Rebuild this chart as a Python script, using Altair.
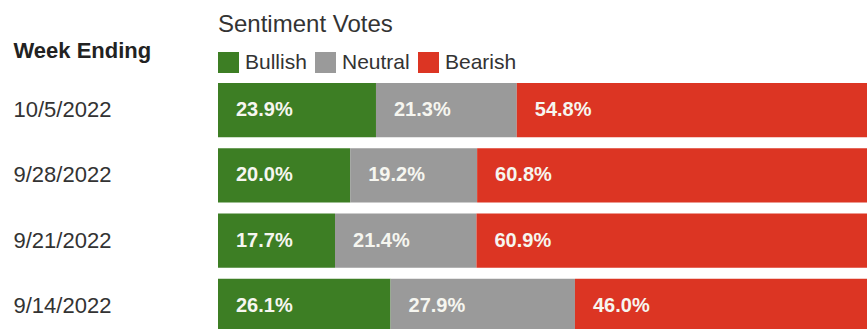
import altair as alt
import pandas as pd

weeks = ["10/5/2022", "9/28/2022", "9/21/2022", "9/14/2022"]
bullish = [23.9, 20.0, 17.7, 26.1]
neutral = [21.3, 19.2, 21.4, 27.9]
bearish = [54.8, 60.8, 60.9, 46.0]
categories = ["Bullish", "Neutral", "Bearish"]
colors = ["#3d7e24", "#9a9a9a", "#dc3523"]

rows = []
for i, w in enumerate(weeks):
    for k, (cat, vals) in enumerate(zip(categories, [bullish, neutral, bearish])):
        rows.append({"week": w, "sentiment": cat, "order": k, "value": vals[i]})
df = pd.DataFrame(rows)

FONT = "Liberation Sans"

base = alt.Chart(df).transform_stack(
    stack="value", groupby=["week"], as_=["x0", "x1"],
    sort=[alt.SortField("order", "ascending")]
).transform_calculate(label="format(datum.value, '.1f') + '%'")

yenc = alt.Y(
    "week:N", sort=weeks,
    scale=alt.Scale(paddingInner=0.17, paddingOuter=0, range=[0, 250]),
    axis=alt.Axis(
        domain=False, ticks=False, tickSize=0, labelAlign="left", labelPadding=205,
        labelFont=FONT, labelFontSize=22, labelColor="#333333",
        title="Week Ending", titleFont=FONT, titleFontSize=22, titleFontWeight="bold",
        titleColor="#222222", titleAngle=0, titleAlign="left", titleBaseline="middle",
        titleX=-205, titleY=-33,
    ),
)
xscale = alt.Scale(domain=[0, 98.18], nice=False, zero=True)

bars = base.mark_bar(clip=True).encode(
    x=alt.X("x0:Q", scale=xscale, axis=None),
    x2="x1:Q",
    y=yenc,
    color=alt.Color(
        "sentiment:N",
        scale=alt.Scale(domain=categories, range=colors),
        legend=alt.Legend(
            orient="none", legendX=0, legendY=-31, direction="horizontal", title=None,
            symbolType="square", symbolSize=441, symbolStrokeWidth=0, symbolOpacity=1,
            labelFont=FONT, labelFontSize=21, labelColor="#333333", labelOffset=6,
            columnPadding=8, padding=0,
        ),
    ),
)

texts = base.mark_text(
    align="left", baseline="middle", dx=18, font=FONT, fontSize=20,
    fontWeight="bold", color="#f6f6f0", clip=True,
).encode(
    x=alt.X("x0:Q", scale=xscale, axis=None),
    y=yenc,
    text="label:N",
)

chart = alt.layer(bars, texts).properties(
    width=649, height=246,
    title=alt.Title("Sentiment Votes", anchor="start", frame="group", fontSize=24,
                    font=FONT, fontWeight="normal", color="#333333", offset=2),
    autosize=alt.AutoSizeParams(type="none"),
    padding={"left": 218, "top": 83, "right": 0, "bottom": 0},
).configure_view(stroke=None)

chart.save("out.html", embed_options={"renderer": "svg", "actions": False})
